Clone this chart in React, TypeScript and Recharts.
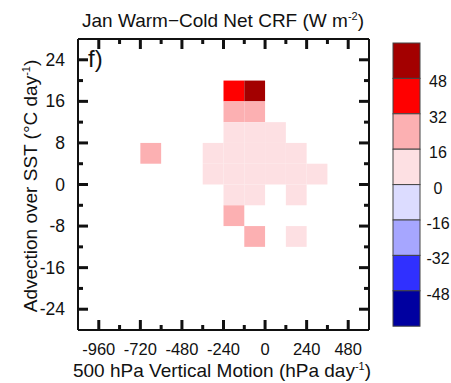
import { ComposedChart, XAxis, YAxis, ReferenceArea, Scatter } from "recharts";

const FONT = "'Liberation Sans', Arial, Helvetica, sans-serif";

// axis ticks (every tick drawn, only the "labeled" ones get a number)
const X_TICKS = [-960, -840, -720, -600, -480, -360, -240, -120, 0, 120, 240, 360, 480];
const X_LABELED = [-960, -720, -480, -240, 0, 240, 480];
const Y_TICKS = [-24, -20, -16, -12, -8, -4, 0, 4, 8, 12, 16, 20, 24];
const Y_LABELED = [-24, -16, -8, 0, 8, 16, 24];

// bins: lower edge of omega (hPa/day) and of advection (°C/day), and CRF difference (W m-2)
const BIN_DX = 120;
const BIN_DY = 4;
const cellOmega = [-240, -120, -240, -120, -240, -120, 0, -720, -360, -240, -120, 0, 120, -360, -240, -120, 0, 120, 240, -240, -120, 120, -240, -120, 120];
const cellAdv = [16, 16, 12, 12, 8, 8, 8, 4, 4, 4, 4, 4, 4, 0, 0, 0, 0, 0, 0, -4, -4, -4, -8, -12, -12];
const cellCrf = [40, 56, 24, 22, 8, 9, 7, 22, 6, 8, 9, 8, 6, 5, 7, 8, 6, 5, 4, 6, 5, 4, 20, 22, 6];

// colour levels of the label bar
const LEVELS = [-48, -32, -16, 0, 16, 32, 48];
const COLORS = ["#0000a0", "#3030ff", "#a6a6ff", "#dcdcff", "#fde0e3", "#fcb0b2", "#ff0000", "#a30000"];

function colorFor(v: number) {
  let i = 0;
  while (i < LEVELS.length && v >= LEVELS[i]) i++;
  return COLORS[i];
}

const cells = cellCrf.map((crf, i) => ({ omega: cellOmega[i], adv: cellAdv[i], crf }));

const textStyle = { fontFamily: FONT, fill: "#111" };
const INK = "#111";
const TICK_W = 3;

// NCL style: ticks point into the plot, majors 10px, minors 5px
function BottomTick({ x, y, payload }: any) {
  const major = X_LABELED.includes(payload.value);
  const len = major ? 10 : 5;
  return (
    <g>
      {major && (
        <text x={x} y={y + 25} textAnchor="middle" fontSize={16.5} style={textStyle}>
          {payload.value}
        </text>
      )}
      <path d={`M${x},${y}L${x},${y - len}`} stroke={INK} strokeWidth={TICK_W} fill="none" />
    </g>
  );
}

function TopTick({ x, y, payload }: any) {
  const len = X_LABELED.includes(payload.value) ? 10 : 5;
  return <path d={`M${x},${y}L${x},${y + len}`} stroke={INK} strokeWidth={TICK_W} fill="none" />;
}

function LeftTick({ x, y, payload }: any) {
  const major = Y_LABELED.includes(payload.value);
  const len = major ? 10 : 5;
  return (
    <g>
      {major && (
        <text x={x - 13} y={y + 6} textAnchor="end" fontSize={17.5} style={textStyle}>
          {payload.value}
        </text>
      )}
      <path d={`M${x},${y}L${x + len},${y}`} stroke={INK} strokeWidth={TICK_W} fill="none" />
    </g>
  );
}

function RightTick({ x, y, payload }: any) {
  const len = Y_LABELED.includes(payload.value) ? 10 : 5;
  return <path d={`M${x},${y}L${x - len},${y}`} stroke={INK} strokeWidth={TICK_W} fill="none" />;
}

const axisLine = { stroke: "#111", strokeWidth: 2 };
const noShape = () => <g />;

export default function App() {
  const barTop = 43;
  const boxH = 35.4;
  return (
    <div style={{ position: "absolute", left: 0, top: 0, width: 451, height: 383, overflow: "hidden", background: "#fff" }}>
      {/* titles and label bar sit underneath the chart svg */}
      <svg width={451} height={383} style={{ position: "absolute", left: 0, top: 0 }}>
        <text x={223} y={27} textAnchor="middle" fontSize={19} style={textStyle}>
          Jan Warm−Cold Net CRF (W m<tspan dy={-7} fontSize={11}>-2</tspan>
          <tspan dy={7}>)</tspan>
        </text>
        <text x={88} y={67} fontSize={24} style={textStyle}>f)</text>
        <text x={222} y={377} textAnchor="middle" fontSize={19} style={textStyle}>
          500 hPa Vertical Motion (hPa day<tspan dy={-7} fontSize={11}>-1</tspan>
          <tspan dy={7}>)</tspan>
        </text>
        <text x={0} y={0} transform="translate(37 186) rotate(-90)" textAnchor="middle" fontSize={19} style={textStyle}>
          Advection over SST (°C day<tspan dy={-7} fontSize={11}>-1</tspan>
          <tspan dy={7}>)</tspan>
        </text>

        {COLORS.slice().reverse().map((c, i) => (
          <rect key={c} x={393} y={barTop + i * boxH} width={27} height={boxH} fill={c} stroke="#444" strokeWidth={1} />
        ))}
        {LEVELS.slice().reverse().map((lv, i) => (
          <text key={lv} x={438} y={barTop + (i + 1) * boxH + 9} textAnchor="middle" fontSize={16} style={textStyle}>
            {lv}
          </text>
        ))}
      </svg>

      <div style={{ position: "absolute", left: 0, top: 0 }}>
        <ComposedChart width={451} height={383} data={cells} margin={{ top: 0, right: 0, bottom: 0, left: 0 }}>
          <XAxis xAxisId="b" dataKey="omega" type="number" domain={[-1080, 600]} allowDataOverflow ticks={X_TICKS} interval={0}
            height={53} tickSize={0} tickMargin={0} tickLine={false} axisLine={axisLine} tick={<BottomTick />} />
          <XAxis xAxisId="t" dataKey="omega" orientation="top" type="number" domain={[-1080, 600]} allowDataOverflow ticks={X_TICKS}
            interval={0} height={39} tickSize={0} tickMargin={0} tickLine={false} axisLine={axisLine} tick={<TopTick />} />
          <YAxis yAxisId="l" dataKey="adv" type="number" domain={[-28, 28]} allowDataOverflow ticks={Y_TICKS} interval={0}
            width={78} tickSize={0} tickMargin={0} tickLine={false} axisLine={axisLine} tick={<LeftTick />} />
          <YAxis yAxisId="r" dataKey="adv" orientation="right" type="number" domain={[-28, 28]} allowDataOverflow ticks={Y_TICKS}
            interval={0} width={82} tickSize={0} tickMargin={0} tickLine={false} axisLine={axisLine} tick={<RightTick />} />
          <Scatter xAxisId="b" yAxisId="l" dataKey="adv" shape={noShape} isAnimationActive={false} />
          <Scatter xAxisId="t" yAxisId="r" dataKey="adv" shape={noShape} isAnimationActive={false} />
          {cells.map((c, i) => (
            <ReferenceArea key={i} xAxisId="b" yAxisId="l" x1={c.omega} x2={c.omega + BIN_DX} y1={c.adv} y2={c.adv + BIN_DY}
              fill={colorFor(c.crf)} fillOpacity={1} stroke="none" />
          ))}
        </ComposedChart>
      </div>
    </div>
  );
}
